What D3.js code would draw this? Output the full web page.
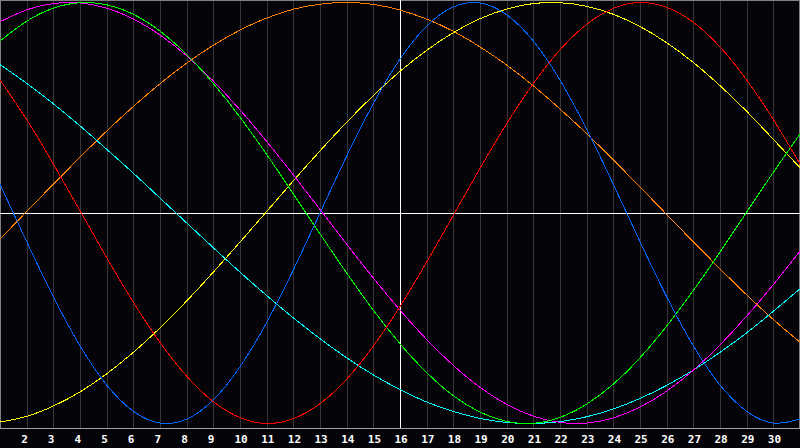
<!DOCTYPE html>
<html>
<head>
<meta charset="utf-8">
<script src="https://cdn.jsdelivr.net/npm/d3@7"></script>
<style>
  html, body { margin: 0; padding: 0; background: #050509; }
  svg { display: block; }
</style>
</head>
<body>
<svg id="chart"></svg>
<script>
// days of the month shown on the chart
var days = d3.range(1, 32);
var tickDays = d3.range(2, 31);
var today = 16;

// readings per day (-100..100)
var physical = [13.6, -13.6, -39.8, -63.1, -81.7, -94.2, -99.8, -97.9, -88.8, -73.1, -52.0, -27.0, 0, 27.0, 52.0, 73.1, 88.8, 97.9, 99.8, 94.2, 81.7, 63.1, 39.8, 13.6, -13.6, -39.8, -63.1, -81.7, -94.2, -99.8, -97.9];
var emotional = [63.2, 44.4, 23.3, 1.1, -21.2, -42.4, -61.5, -77.5, -89.6, -97.2, -100, -97.7, -90.6, -78.9, -63.2, -44.4, -23.3, -1.1, 21.2, 42.4, 61.5, 77.5, 89.6, 97.2, 100, 97.7, 90.6, 78.9, 63.2, 44.4, 23.3];
var intellectual = [81.7, 91.1, 97.3, 99.9, 98.9, 94.4, 86.4, 75.3, 61.5, 45.5, 27.8, 9.1, -9.9, -28.5, -46.2, -62.1, -75.8, -86.8, -94.6, -99.0, -99.9, -97.1, -90.8, -81.3, -68.8, -53.7, -36.8, -18.6, 0.4, 19.3, 37.5];
var intuitive = [90.9, 96.5, 99.5, 99.8, 97.3, 92.2, 84.6, 74.7, 62.7, 49.0, 34.0, 18.1, 1.7, -14.8, -30.9, -46.1, -60.1, -72.4, -82.8, -90.9, -96.5, -99.5, -99.8, -97.3, -92.2, -84.6, -74.7, -62.7, -49.0, -34.0, -18.1];
var aesthetic = [-99.3, -96.6, -91.7, -85.0, -76.4, -66.2, -54.6, -41.8, -28.1, -13.8, 0.7, 15.3, 29.5, 43.1, 55.8, 67.3, 77.3, 85.7, 92.3, 96.9, 99.5, 99.9, 98.2, 94.4, 88.6, 80.9, 71.5, 60.5, 48.3, 35.0, 21.5];
var awareness = [-12.4, 0.7, 13.7, 26.5, 38.9, 50.6, 61.4, 71.2, 79.7, 86.9, 92.6, 96.8, 99.2, 100, 99.1, 96.4, 92.1, 86.3, 78.9, 70.3, 60.4, 49.4, 37.7, 25.2, 12.4, -0.7, -13.7, -26.5, -38.9, -50.6, -61.4];
var spiritual = [70.5, 61.6, 51.9, 41.4, 30.3, 18.9, 7.1, -4.7, -16.5, -28.1, -39.2, -49.8, -59.7, -68.8, -76.9, -83.9, -89.8, -94.3, -97.6, -99.5, -100, -99.1, -96.8, -93.1, -88.1, -81.9, -74.6, -66.2, -56.9, -46.7, -36.0];

var seriesNames = ["awareness", "spiritual", "aesthetic", "intuitive", "intellectual", "emotional", "physical"];
var seriesValues = [awareness, spiritual, aesthetic, intuitive, intellectual, emotional, physical];
var seriesColors = ["#ff8000", "#00ffff", "#ffff00", "#ff00ff", "#00ff00", "#ff0000", "#0066ff"];

var width = 800;
var height = 448;
var plotBottom = 428;

var svg = d3.select("#chart")
  .attr("width", width)
  .attr("height", height);

svg.append("rect")
  .attr("width", width)
  .attr("height", height)
  .attr("fill", "#050509");

var x = d3.scaleLinear()
  .domain([1, 31])
  .range([0, 800]);

var y = d3.scaleLinear()
  .domain([-100, 100])
  .range([423.5, 2.5]);

// day grid
svg.append("g")
  .attr("shape-rendering", "crispEdges")
  .selectAll("line")
  .data(tickDays)
  .enter()
  .append("line")
  .attr("x1", d => Math.round(x(d)) + 0.5)
  .attr("x2", d => Math.round(x(d)) + 0.5)
  .attr("y1", 0)
  .attr("y2", plotBottom)
  .attr("stroke", "#363636")
  .attr("stroke-width", 1);

// frame
var frame = svg.append("g").attr("shape-rendering", "crispEdges");
frame.append("line")
  .attr("x1", 0).attr("x2", width).attr("y1", 0.5).attr("y2", 0.5)
  .attr("stroke", "#808080");
frame.append("line")
  .attr("x1", 0.5).attr("x2", 0.5).attr("y1", 0).attr("y2", plotBottom)
  .attr("stroke", "#808080");
frame.append("line")
  .attr("x1", width - 0.5).attr("x2", width - 0.5).attr("y1", 0).attr("y2", plotBottom)
  .attr("stroke", "#808080");
frame.append("line")
  .attr("x1", 0).attr("x2", width).attr("y1", plotBottom + 0.5).attr("y2", plotBottom + 0.5)
  .attr("stroke", "#a0a0a0");

// zero line and today marker
frame.append("line")
  .attr("x1", 0).attr("x2", width)
  .attr("y1", Math.round(y(0)) + 0.5).attr("y2", Math.round(y(0)) + 0.5)
  .attr("stroke", "#ffffff");
frame.append("line")
  .attr("x1", Math.round(x(today)) + 0.5).attr("x2", Math.round(x(today)) + 0.5)
  .attr("y1", 0).attr("y2", plotBottom)
  .attr("stroke", "#ffffff");

// cycles
var line = d3.line()
  .x((d, i) => x(days[i]))
  .y(d => y(d))
  .curve(d3.curveNatural);

svg.append("g")
  .selectAll("path")
  .data(seriesValues)
  .enter()
  .append("path")
  .attr("class", (d, i) => "cycle " + seriesNames[i])
  .attr("d", line)
  .attr("fill", "none")
  .attr("stroke", (d, i) => seriesColors[i])
  .attr("stroke-width", 1)
  .attr("shape-rendering", "crispEdges");

// day labels
svg.append("g")
  .selectAll("text")
  .data(tickDays)
  .enter()
  .append("text")
  .attr("x", d => x(d) - 5.5)
  .attr("y", 443)
  .attr("fill", "#ffffff")
  .attr("font-family", "DejaVu Sans Mono, monospace")
  .attr("font-weight", "bold")
  .attr("font-size", "11px")
  .text(d => d);
</script>
</body>
</html>
